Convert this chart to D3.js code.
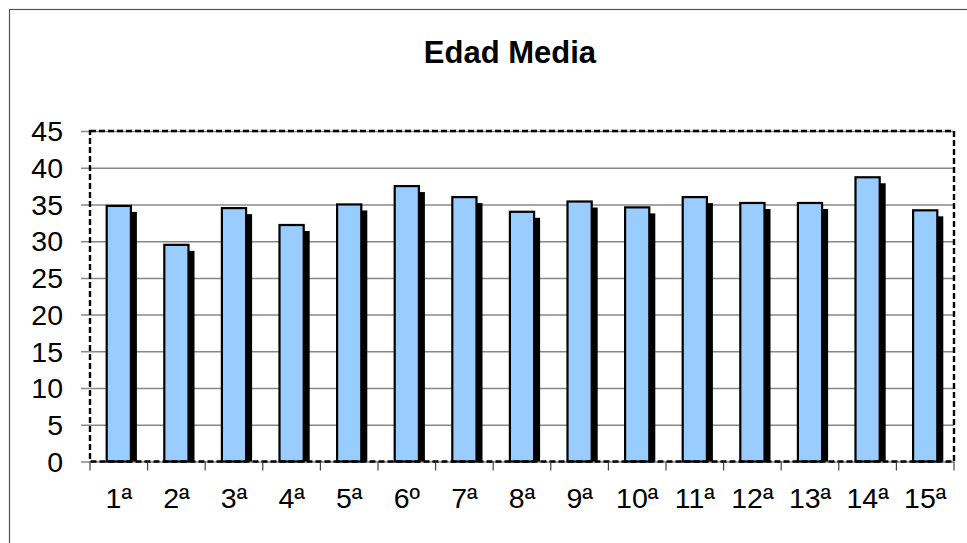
<!DOCTYPE html>
<html>
<head>
<meta charset="utf-8">
<style>
  body { margin: 0; background: #fff; }
  svg { display: block; font-family: "Liberation Sans", Arial, sans-serif; }
</style>
</head>
<body>
<script src="https://d3js.org/d3.v7.min.js"></script>
<script>
var categories = ["1ª", "2ª", "3ª", "4ª", "5ª", "6º", "7ª", "8ª", "9ª", "10ª", "11ª", "12ª", "13ª", "14ª", "15ª"];
var edadMedia = [34.8, 29.5, 34.5, 32.2, 35.0, 37.5, 36.0, 34.0, 35.4, 34.6, 36.0, 35.2, 35.2, 38.7, 34.2];
var yTicks = [0, 5, 10, 15, 20, 25, 30, 35, 40, 45];

var width = 967, height = 543;
var plot = { left: 90, right: 954, top: 131, bottom: 461.5 };

var svg = d3.select("body").append("svg")
    .attr("width", width)
    .attr("height", height);

// outer chart frame
svg.append("rect")
    .attr("x", 9.5).attr("y", 9.5)
    .attr("width", 1000).attr("height", 600)
    .attr("fill", "none")
    .attr("stroke", "#555")
    .attr("stroke-width", 1.2);

var x = d3.scaleBand()
    .domain(categories)
    .range([plot.left, plot.right]);

var xBar = d3.scaleBand()
    .domain(categories)
    .range([plot.left, plot.right])
    .paddingInner(0.58)
    .paddingOuter(0.29);

var y = d3.scaleLinear()
    .domain([0, 45])
    .range([plot.bottom, plot.top]);

// gridlines + left ticks
svg.append("g")
    .attr("transform", "translate(" + plot.left + ",0)")
    .call(d3.axisLeft(y).tickValues(yTicks).tickSize(-(plot.right - plot.left)).tickSizeOuter(0).tickFormat(""))
    .call(function(g){ g.select(".domain").remove(); })
    .call(function(g){ g.selectAll(".tick line").attr("stroke", "#888").attr("stroke-width", 1.5).attr("x1", -9); });

// y labels
svg.append("g").selectAll("text")
    .data(yTicks)
    .enter().append("text")
    .attr("x", 63)
    .attr("y", function(d){ return y(d); })
    .attr("dy", "0.36em")
    .attr("text-anchor", "end")
    .style("font-size", "28.5px")
    .text(function(d){ return d; });

// bar shadows
svg.append("g").selectAll("rect")
    .data(edadMedia)
    .enter().append("rect")
    .attr("x", function(d, i){ return xBar(categories[i]) + 6; })
    .attr("y", function(d){ return y(d) + 6; })
    .attr("width", xBar.bandwidth())
    .attr("height", function(d){ return plot.bottom - y(d) - 6; })
    .attr("fill", "#000");

// bars
svg.append("g").selectAll("rect")
    .data(edadMedia)
    .enter().append("rect")
    .attr("x", function(d, i){ return xBar(categories[i]); })
    .attr("y", function(d){ return y(d); })
    .attr("width", xBar.bandwidth())
    .attr("height", function(d){ return plot.bottom - y(d); })
    .attr("fill", "#99ccff")
    .attr("stroke", "#000")
    .attr("stroke-width", 2.2);

// dashed plot frame
svg.append("rect")
    .attr("x", plot.left).attr("y", plot.top)
    .attr("width", plot.right - plot.left)
    .attr("height", plot.bottom - plot.top)
    .attr("fill", "none")
    .attr("stroke", "#000")
    .attr("stroke-width", 2.4)
    .attr("stroke-dasharray", "6,3");

// x ticks at category boundaries
var bounds = categories.map(function(c){ return x(c); }).concat([plot.right]);
svg.append("g").selectAll("line")
    .data(bounds)
    .enter().append("line")
    .attr("x1", function(d){ return d; }).attr("x2", function(d){ return d; })
    .attr("y1", plot.bottom).attr("y2", plot.bottom + 9)
    .attr("stroke", "#444").attr("stroke-width", 1.2);

// x labels
svg.append("g").selectAll("text")
    .data(categories)
    .enter().append("text")
    .attr("x", function(d){ return x(d) + x.bandwidth() / 2; })
    .attr("y", 508)
    .attr("text-anchor", "middle")
    .style("font-size", "28.5px")
    .text(function(d){ return d; });

// title
svg.append("text")
    .attr("x", 510)
    .attr("y", 63)
    .attr("text-anchor", "middle")
    .style("font-size", "31px")
    .style("font-weight", "bold")
    .text("Edad Media");
</script>
</body>
</html>
